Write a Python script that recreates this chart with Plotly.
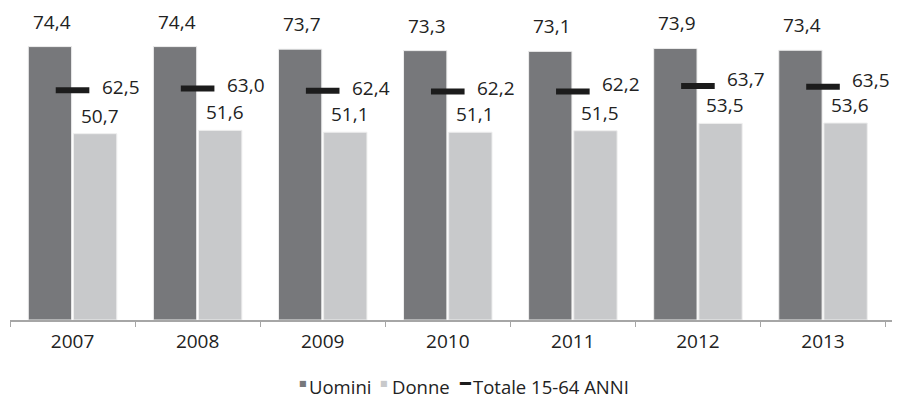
import plotly.graph_objects as go

years = ["2007", "2008", "2009", "2010", "2011", "2012", "2013"]
uomini = [74.4, 74.4, 73.7, 73.3, 73.1, 73.9, 73.4]
donne = [50.7, 51.6, 51.1, 51.1, 51.5, 53.5, 53.6]
totale = [62.5, 63.0, 62.4, 62.2, 62.2, 63.7, 63.5]
series_names = ["Uomini", "Donne", "Totale 15-64 ANNI"]

C_U = "#77787b"
C_D = "#c8c9cb"
C_T = "#1c1c1c"
TXT = "#222222"

def fmt(v):
    return f"{v:.1f}".replace(".", ",")

FONT = "Open Sans, DejaVu Sans, sans-serif"
fig = go.Figure()
fig.add_trace(go.Bar(x=years, y=uomini, name=series_names[0], showlegend=False,
                     marker=dict(color=C_U, line=dict(color="#eeeeee", width=1))))
fig.add_trace(go.Bar(x=years, y=donne, name=series_names[1], showlegend=False,
                     marker=dict(color=C_D, line=dict(color="#eeeeee", width=1))))
fig.add_trace(go.Scatter(x=years, y=totale, name=series_names[2], mode="markers", showlegend=False,
                         marker=dict(symbol="line-ew", size=24, line=dict(color=C_T, width=6))))

ann = []
for i in range(len(years)):
    ann.append(dict(x=i, y=uomini[i], text=fmt(uomini[i]), showarrow=False, xshift=-21,
                    yanchor="middle", yshift=25, font=dict(size=19, color=TXT)))
    ann.append(dict(x=i, y=donne[i], text=fmt(donne[i]), showarrow=False, xshift=27,
                    yanchor="middle", yshift=18, font=dict(size=19, color=TXT)))
    ts = 3 if totale[i] - donne[i] > 11 else 7
    ann.append(dict(x=i, y=totale[i], text=fmt(totale[i]), showarrow=False, xshift=48,
                    yanchor="middle", yshift=ts, font=dict(size=19, color=TXT)))

# custom legend (paper coordinates derived from pixel layout)
def px_x(p):
    return (p - 10) / 882

def px_y(p):
    return (320 - p) / 294

legend_items = [(series_names[0], C_U, "■", 8, 303, 307),
                (series_names[1], C_D, "■", 8, 384, 390),
                (series_names[2], C_T, "━", 18, 465, 471)]
for name, col, sym, ssize, sx, tx in legend_items:
    ann.append(dict(xref="paper", yref="paper", x=px_x(sx), y=px_y(383), xanchor="center", yanchor="middle",
                    text=sym, showarrow=False, font=dict(size=ssize, color=col, family="DejaVu Sans")))
    ann.append(dict(xref="paper", yref="paper", x=px_x(tx), y=px_y(386), xanchor="left", yanchor="middle",
                    text=name, showarrow=False, font=dict(size=18.5, color=TXT)))

fig.update_layout(
    width=899, height=398,
    margin=dict(l=10, r=7, t=26, b=78, autoexpand=False),
    paper_bgcolor="white", plot_bgcolor="white",
    font=dict(family=FONT, size=19, color=TXT),
    barmode="group", bargap=0.278, bargroupgap=0.04,
    showlegend=False,
    annotations=ann,
    xaxis=dict(type="category", showline=True, linecolor="#a6a6a6", linewidth=1.5, ticks="outside",
               tickson="boundaries", ticklen=5, tickcolor="#a6a6a6", showgrid=False, automargin=False,
               tickfont=dict(size=19, color=TXT), ticklabelstandoff=3),
    yaxis=dict(range=[0, 80], visible=False, showgrid=False, automargin=False),
)
fig.write_html("out.html", config={"displayModeBar": False},
               post_script="document.body.style.margin='0';document.body.style.padding='0';")
